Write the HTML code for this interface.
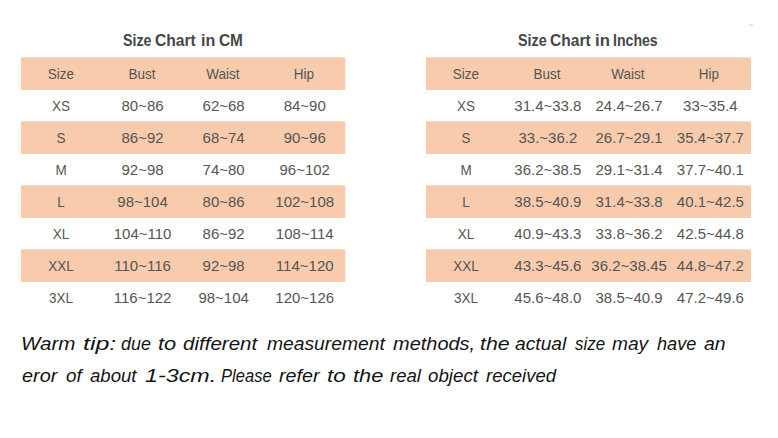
<!DOCTYPE html>
<html><head><meta charset="utf-8"><style>
html,body{margin:0;padding:0;background:#fff;}
body{width:778px;height:438px;position:relative;overflow:hidden;font-family:"Liberation Sans",sans-serif;}
.band{position:absolute;background:#F8CBAD;}
.cell{position:absolute;width:120px;text-align:center;font-size:15px;line-height:17.23px;color:#555555;white-space:nowrap;}
.title{position:absolute;transform-origin:0 0;font-size:16px;line-height:18.38px;font-weight:bold;color:#45474a;white-space:nowrap;}
.tip{position:absolute;transform-origin:0 0;font-style:italic;font-size:18px;line-height:20.68px;color:#141414;white-space:nowrap;letter-spacing:0px;}
</style></head><body>
<svg width="778" height="438" style="position:absolute;left:0;top:0" fill="#F8CBAD">
<rect x="21" y="57.35" width="324.25" height="32.6"/>
<rect x="21" y="121.35" width="324.25" height="32.6"/>
<rect x="21" y="185.35" width="324.25" height="32.6"/>
<rect x="21" y="249.35" width="324.25" height="32.6"/>
<rect x="426" y="57.35" width="325" height="32.6"/>
<rect x="426" y="121.35" width="325" height="32.6"/>
<rect x="426" y="185.35" width="325" height="32.6"/>
<rect x="426" y="249.35" width="325" height="32.6"/>
</svg>
<div class="cell" style="left:0.53px;top:65.42px;transform:scaleX(0.9)">Size</div>
<div class="cell" style="left:81.59px;top:65.42px;transform:scaleX(0.9)">Bust</div>
<div class="cell" style="left:162.66px;top:65.42px;transform:scaleX(0.9)">Waist</div>
<div class="cell" style="left:243.72px;top:65.42px;transform:scaleX(0.9)">Hip</div>
<div class="cell" style="left:0.53px;top:97.42px;transform:scaleX(0.9)">XS</div>
<div class="cell" style="left:82.59px;top:97.42px">80~86</div>
<div class="cell" style="left:163.66px;top:97.42px">62~68</div>
<div class="cell" style="left:244.72px;top:97.42px">84~90</div>
<div class="cell" style="left:0.53px;top:129.43px;transform:scaleX(0.9)">S</div>
<div class="cell" style="left:82.59px;top:129.43px">86~92</div>
<div class="cell" style="left:163.66px;top:129.43px">68~74</div>
<div class="cell" style="left:244.72px;top:129.43px">90~96</div>
<div class="cell" style="left:0.53px;top:161.43px;transform:scaleX(0.9)">M</div>
<div class="cell" style="left:82.59px;top:161.43px">92~98</div>
<div class="cell" style="left:163.66px;top:161.43px">74~80</div>
<div class="cell" style="left:244.72px;top:161.43px">96~102</div>
<div class="cell" style="left:0.53px;top:193.43px;transform:scaleX(0.9)">L</div>
<div class="cell" style="left:82.59px;top:193.43px">98~104</div>
<div class="cell" style="left:163.66px;top:193.43px">80~86</div>
<div class="cell" style="left:244.72px;top:193.43px">102~108</div>
<div class="cell" style="left:0.53px;top:225.43px;transform:scaleX(0.9)">XL</div>
<div class="cell" style="left:82.59px;top:225.43px">104~110</div>
<div class="cell" style="left:163.66px;top:225.43px">86~92</div>
<div class="cell" style="left:244.72px;top:225.43px">108~114</div>
<div class="cell" style="left:0.53px;top:257.43px;transform:scaleX(0.9)">XXL</div>
<div class="cell" style="left:82.59px;top:257.43px">110~116</div>
<div class="cell" style="left:163.66px;top:257.43px">92~98</div>
<div class="cell" style="left:244.72px;top:257.43px">114~120</div>
<div class="cell" style="left:0.53px;top:289.43px;transform:scaleX(0.9)">3XL</div>
<div class="cell" style="left:82.59px;top:289.43px">116~122</div>
<div class="cell" style="left:163.66px;top:289.43px">98~104</div>
<div class="cell" style="left:244.72px;top:289.43px">120~126</div>
<div class="cell" style="left:405.62px;top:65.42px;transform:scaleX(0.9)">Size</div>
<div class="cell" style="left:486.88px;top:65.42px;transform:scaleX(0.9)">Bust</div>
<div class="cell" style="left:568.12px;top:65.42px;transform:scaleX(0.9)">Waist</div>
<div class="cell" style="left:649.38px;top:65.42px;transform:scaleX(0.9)">Hip</div>
<div class="cell" style="left:405.62px;top:97.42px;transform:scaleX(0.9)">XS</div>
<div class="cell" style="left:487.88px;top:97.42px">31.4~33.8</div>
<div class="cell" style="left:569.12px;top:97.42px">24.4~26.7</div>
<div class="cell" style="left:650.38px;top:97.42px">33~35.4</div>
<div class="cell" style="left:405.62px;top:129.43px;transform:scaleX(0.9)">S</div>
<div class="cell" style="left:487.88px;top:129.43px">33.~36.2</div>
<div class="cell" style="left:569.12px;top:129.43px">26.7~29.1</div>
<div class="cell" style="left:650.38px;top:129.43px">35.4~37.7</div>
<div class="cell" style="left:405.62px;top:161.43px;transform:scaleX(0.9)">M</div>
<div class="cell" style="left:487.88px;top:161.43px">36.2~38.5</div>
<div class="cell" style="left:569.12px;top:161.43px">29.1~31.4</div>
<div class="cell" style="left:650.38px;top:161.43px">37.7~40.1</div>
<div class="cell" style="left:405.62px;top:193.43px;transform:scaleX(0.9)">L</div>
<div class="cell" style="left:487.88px;top:193.43px">38.5~40.9</div>
<div class="cell" style="left:569.12px;top:193.43px">31.4~33.8</div>
<div class="cell" style="left:650.38px;top:193.43px">40.1~42.5</div>
<div class="cell" style="left:405.62px;top:225.43px;transform:scaleX(0.9)">XL</div>
<div class="cell" style="left:487.88px;top:225.43px">40.9~43.3</div>
<div class="cell" style="left:569.12px;top:225.43px">33.8~36.2</div>
<div class="cell" style="left:650.38px;top:225.43px">42.5~44.8</div>
<div class="cell" style="left:405.62px;top:257.43px;transform:scaleX(0.9)">XXL</div>
<div class="cell" style="left:487.88px;top:257.43px">43.3~45.6</div>
<div class="cell" style="left:569.12px;top:257.43px">36.2~38.45</div>
<div class="cell" style="left:650.38px;top:257.43px">44.8~47.2</div>
<div class="cell" style="left:405.62px;top:289.43px;transform:scaleX(0.9)">3XL</div>
<div class="cell" style="left:487.88px;top:289.43px">45.6~48.0</div>
<div class="cell" style="left:569.12px;top:289.43px">38.5~40.9</div>
<div class="cell" style="left:650.38px;top:289.43px">47.2~49.6</div>
<span class="tip" style="left:21.29px;top:333.71px;transform:scaleX(1.1429)">Warm</span>
<span class="tip" style="left:82.76px;top:333.71px;transform:scaleX(1.3867)">tip:</span>
<span class="tip" style="left:120.50px;top:333.71px;transform:scaleX(0.9931)">due</span>
<span class="tip" style="left:157.89px;top:333.71px;transform:scaleX(1.2145)">to</span>
<span class="tip" style="left:183.33px;top:333.71px;transform:scaleX(1.1418)">different</span>
<span class="tip" style="left:267.13px;top:333.71px;transform:scaleX(1.0706)">measurement</span>
<span class="tip" style="left:393.12px;top:333.71px;transform:scaleX(1.1094)">methods,</span>
<span class="tip" style="left:479.91px;top:333.71px;transform:scaleX(1.1874)">the</span>
<span class="tip" style="left:515.23px;top:333.71px;transform:scaleX(1.0674)">actual</span>
<span class="tip" style="left:574.70px;top:333.71px;transform:scaleX(0.9397)">size</span>
<span class="tip" style="left:611.73px;top:333.71px;transform:scaleX(1.0647)">may</span>
<span class="tip" style="left:656.75px;top:333.71px;transform:scaleX(1.0065)">have</span>
<span class="tip" style="left:704.23px;top:333.71px;transform:scaleX(1.0789)">an</span>
<span class="tip" style="left:22.45px;top:365.71px;transform:scaleX(1.1039)">eror</span>
<span class="tip" style="left:65.78px;top:365.71px;transform:scaleX(1.0438)">of</span>
<span class="tip" style="left:89.74px;top:365.71px;transform:scaleX(1.0330)">about</span>
<span class="tip" style="left:144.55px;top:365.71px;transform:scaleX(1.2938)">1-3cm.</span>
<span class="tip" style="left:220.54px;top:365.71px;transform:scaleX(0.9204)">Please</span>
<span class="tip" style="left:279.43px;top:365.71px;transform:scaleX(1.0960)">refer</span>
<span class="tip" style="left:327.06px;top:365.71px;transform:scaleX(1.2509)">to</span>
<span class="tip" style="left:352.79px;top:365.71px;transform:scaleX(1.2126)">the</span>
<span class="tip" style="left:389.54px;top:365.71px;transform:scaleX(1.0314)">real</span>
<span class="tip" style="left:428.28px;top:365.71px;transform:scaleX(1.0404)">object</span>
<span class="tip" style="left:486.44px;top:365.71px;transform:scaleX(1.0286)">received</span>
<span class="title" style="left:123.46px;top:32.12px;transform:scaleX(0.8871)">Size</span>
<span class="title" style="left:155.01px;top:32.12px;transform:scaleX(0.9770)">Chart</span>
<span class="title" style="left:200.60px;top:32.12px;transform:scaleX(1.0041)">in</span>
<span class="title" style="left:219.12px;top:32.12px;transform:scaleX(0.9617)">CM</span>
<span class="title" style="left:517.65px;top:32.12px;transform:scaleX(0.8935)">Size</span>
<span class="title" style="left:549.51px;top:32.12px;transform:scaleX(0.9721)">Chart</span>
<span class="title" style="left:594.76px;top:32.12px;transform:scaleX(1.0449)">in</span>
<span class="title" style="left:613.42px;top:32.12px;transform:scaleX(0.8816)">Inches</span>
<div style="position:absolute;left:749px;top:24px;width:4px;height:2px;background:#e6e6e6"></div>
</body></html>
